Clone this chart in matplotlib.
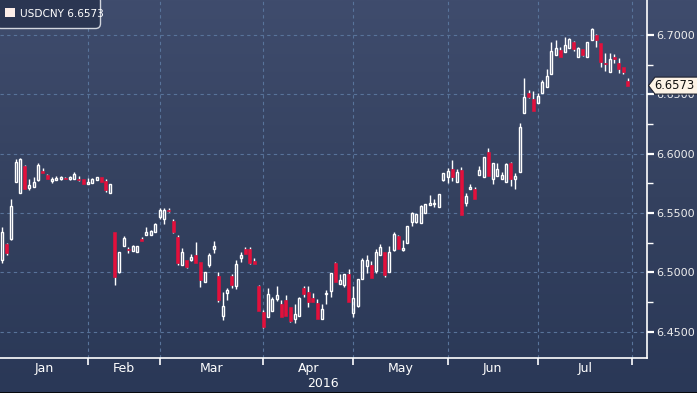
import numpy as np
import matplotlib
matplotlib.use("Agg")
import matplotlib.pyplot as plt
from matplotlib.patches import FancyBboxPatch, Rectangle, Polygon
from matplotlib.colors import LinearSegmentedColormap
import matplotlib.transforms as mtransforms

# ---- data (USDCNY daily candles, Jan-Jul 2016) ----
ticker = "USDCNY"
last_label = "6.6573"
months = ["Jan", "Feb", "Mar", "Apr", "May", "Jun", "Jul"]
month_days = [20, 16, 23, 20, 21, 20, 21]   # trading days per month
year_label = "2016"
y_ticks = [6.45, 6.50, 6.55, 6.60, 6.65, 6.70]

opens = [6.5104, 6.5239, 6.5278, 6.5759, 6.5666, 6.5896, 6.5711, 6.5722, 6.5776, 6.5854,
         6.5820, 6.5767, 6.5778, 6.5784, 6.5797, 6.5784, 6.5789, 6.5786, 6.5784, 6.5747,
         6.5755, 6.5781, 6.5801, 6.5767, 6.5666, 6.5340, 6.5006, 6.5222, 6.5199, 6.5182,
         6.5174, 6.5281, 6.5317, 6.5317, 6.5343, 6.5466, 6.5452, 6.5528, 6.5433, 6.5298,
         6.5064, 6.5104, 6.5102, 6.5146, 6.5087, 6.4921, 6.5064, 6.5194, 6.4969, 6.4632,
         6.4824, 6.4969, 6.4885, 6.5121, 6.5194, 6.5194, 6.5096, 6.4885, 6.4669, 6.4621,
         6.4677, 6.4778, 6.4733, 6.4767, 6.4706, 6.4610, 6.4635, 6.4871, 6.4834, 6.4786,
         6.4739, 6.4610, 6.4818, 6.4845, 6.5076, 6.4899, 6.4893, 6.4986, 6.4660, 6.4719,
         6.4941, 6.5056, 6.5059, 6.5011, 6.5149, 6.5171, 6.5006, 6.5188, 6.5304, 6.5188,
         6.5250, 6.5427, 6.5422, 6.5418, 6.5498, 6.5565, 6.5576, 6.5553, 6.5778, 6.5801,
         6.5868, 6.5759, 6.5862, 6.5580, 6.5698, 6.5700, 6.5816, 6.5806, 6.6014, 6.5784,
         6.5812, 6.5784, 6.5764, 6.5919, 6.5784, 6.5843, 6.6345, 6.6509, 6.6456, 6.6427,
         6.6509, 6.6564, 6.6669, 6.6831, 6.6873, 6.6859, 6.6888, 6.6938, 6.6812, 6.6879,
         6.6812, 6.6958, 6.7000, 6.6930, 6.6766, 6.6691, 6.6812, 6.6766, 6.6728, 6.6615]
highs = [6.5380, 6.5250, 6.5615, 6.5952, 6.5961, 6.5900, 6.5784, 6.5801, 6.5919, 6.5877,
         6.5831, 6.5803, 6.5812, 6.5808, 6.5806, 6.5812, 6.5845, 6.5812, 6.5786, 6.5795,
         6.5795, 6.5803, 6.5803, 6.5786, 6.5744, 6.5340, 6.5171, 6.5306, 6.5216, 6.5230,
         6.5225, 6.5298, 6.5380, 6.5357, 6.5416, 6.5540, 6.5542, 6.5542, 6.5447, 6.5315,
         6.5203, 6.5104, 6.5152, 6.5256, 6.5087, 6.5000, 6.5161, 6.5264, 6.5000, 6.4837,
         6.4868, 6.4984, 6.5104, 6.5171, 6.5214, 6.5214, 6.5121, 6.4893, 6.4683, 6.4866,
         6.4790, 6.4885, 6.4765, 6.4807, 6.4706, 6.4733, 6.4790, 6.4885, 6.4885, 6.4824,
         6.4773, 6.4731, 6.4851, 6.4992, 6.5087, 6.4984, 6.4984, 6.5028, 6.4885, 6.4941,
         6.5123, 6.5146, 6.5096, 6.5197, 6.5239, 6.5171, 6.5222, 6.5337, 6.5315, 6.5273,
         6.5388, 6.5511, 6.5492, 6.5567, 6.5573, 6.5652, 6.5618, 6.5660, 6.5835, 6.5877,
         6.5947, 6.5868, 6.5888, 6.5666, 6.5744, 6.5719, 6.5896, 6.5969, 6.6048, 6.5919,
         6.5919, 6.5845, 6.5924, 6.5932, 6.5835, 6.6261, 6.6640, 6.6532, 6.6530, 6.6509,
         6.6621, 6.6713, 6.6943, 6.6958, 6.6896, 6.6985, 6.6974, 6.6949, 6.6901, 6.6879,
         6.6938, 6.7056, 6.7010, 6.6930, 6.6846, 6.6846, 6.6840, 6.6803, 6.6728, 6.6635]
lows = [6.5081, 6.5150, 6.5273, 6.5759, 6.5666, 6.5700, 6.5694, 6.5722, 6.5770, 6.5833,
        6.5786, 6.5755, 6.5774, 6.5782, 6.5784, 6.5782, 6.5789, 6.5772, 6.5744, 6.5747,
        6.5753, 6.5778, 6.5764, 6.5680, 6.5666, 6.4893, 6.4995, 6.5218, 6.5166, 6.5180,
        6.5170, 6.5264, 6.5315, 6.5315, 6.5340, 6.5449, 6.5407, 6.5512, 6.5334, 6.5062,
        6.5062, 6.5037, 6.5093, 6.5079, 6.4879, 6.4921, 6.5048, 6.5166, 6.4753, 6.4599,
        6.4767, 6.4871, 6.4862, 6.5087, 6.5155, 6.5070, 6.5070, 6.4674, 6.4531, 6.4621,
        6.4677, 6.4761, 6.4626, 6.4632, 6.4584, 6.4576, 6.4635, 6.4795, 6.4711, 6.4753,
        6.4604, 6.4610, 6.4733, 6.4795, 6.4921, 6.4899, 6.4877, 6.4753, 6.4626, 6.4711,
        6.4941, 6.4997, 6.4955, 6.4992, 6.5149, 6.4963, 6.5006, 6.5180, 6.5197, 6.5180,
        6.5250, 6.5393, 6.5413, 6.5418, 6.5498, 6.5565, 6.5548, 6.5553, 6.5772, 6.5755,
        6.5772, 6.5759, 6.5483, 6.5559, 6.5698, 6.5618, 6.5816, 6.5806, 6.5812, 6.5744,
        6.5812, 6.5784, 6.5764, 6.5730, 6.5700, 6.5843, 6.6345, 6.6470, 6.6362, 6.6427,
        6.6509, 6.6564, 6.6669, 6.6831, 6.6810, 6.6859, 6.6888, 6.6867, 6.6812, 6.6823,
        6.6812, 6.6958, 6.6901, 6.6733, 6.6696, 6.6691, 6.6766, 6.6677, 6.6671, 6.6573]
closes = [6.5337, 6.5161, 6.5557, 6.5927, 6.5952, 6.5705, 6.5733, 6.5759, 6.5904, 6.5837,
          6.5789, 6.5786, 6.5792, 6.5801, 6.5786, 6.5801, 6.5831, 6.5778, 6.5747, 6.5761,
          6.5786, 6.5801, 6.5764, 6.5696, 6.5744, 6.4963, 6.5169, 6.5287, 6.5186, 6.5222,
          6.5222, 6.5267, 6.5340, 6.5346, 6.5407, 6.5525, 6.5525, 6.5514, 6.5343, 6.5081,
          6.5171, 6.5048, 6.5129, 6.5081, 6.4936, 6.5000, 6.5146, 6.5220, 6.4767, 6.4717,
          6.4851, 6.4893, 6.5070, 6.5146, 6.5157, 6.5076, 6.5073, 6.4677, 6.4537, 6.4818,
          6.4773, 6.4807, 6.4626, 6.4632, 6.4590, 6.4647, 6.4784, 6.4820, 6.4750, 6.4753,
          6.4604, 6.4691, 6.4830, 6.4992, 6.4921, 6.4933, 6.4984, 6.4753, 6.4784, 6.4941,
          6.5104, 6.5104, 6.4955, 6.5171, 6.5211, 6.4978, 6.5169, 6.5323, 6.5197, 6.5205,
          6.5388, 6.5503, 6.5492, 6.5559, 6.5573, 6.5584, 6.5587, 6.5660, 6.5835, 6.5854,
          6.5799, 6.5843, 6.5483, 6.5639, 6.5717, 6.5618, 6.5862, 6.5969, 6.5812, 6.5919,
          6.5868, 6.5820, 6.5910, 6.5784, 6.5812, 6.6222, 6.6477, 6.6480, 6.6362, 6.6486,
          6.6604, 6.6654, 6.6865, 6.6888, 6.6817, 6.6915, 6.6966, 6.6882, 6.6888, 6.6831,
          6.6938, 6.7048, 6.6958, 6.6775, 6.6753, 6.6797, 6.6797, 6.6713, 6.6691, 6.6573]

# ---- figure ----
W, H = 697, 393
RED = "#e3103c"
fig = plt.figure(figsize=(W / 100, H / 100), dpi=100)

# gradient background over the whole figure
bg = fig.add_axes([0, 0, 1, 1], zorder=0)
bg.axis("off")
cmap = LinearSegmentedColormap.from_list("bb", ["#3f4c6d", "#34415f", "#2a3857"])
bg.imshow(np.linspace(0, 1, 256).reshape(-1, 1), aspect="auto", cmap=cmap,
          extent=[0, 1, 0, 1], origin="upper")

ax_w, ax_h = 646.7, 357.7
ax = fig.add_axes([0, 1 - ax_h / H, ax_w / W, ax_h / H], zorder=1)
ax.set_facecolor("none")

o = np.array(opens); h = np.array(highs); l = np.array(lows); c = np.array(closes)
x = np.arange(len(o))
top = np.maximum(o, c)
bot = np.minimum(o, c)
up = c >= o
min_h = 0.0009

# wicks (drawn above and below the body so hollow bodies stay empty)
ax.vlines(x, top, h, color="white", lw=1, zorder=2)
ax.vlines(x, l, bot, color="white", lw=1, zorder=2)

ax.bar(x[up], np.maximum(top[up] - bot[up], min_h), bottom=bot[up], width=0.52,
       facecolor="none", edgecolor="white", linewidth=1, zorder=3)
ax.bar(x[~up], np.maximum(top[~up] - bot[~up], min_h), bottom=bot[~up], width=0.62,
       color=RED, edgecolor=RED, linewidth=0.4, zorder=3)

# month boundaries on the trading-day axis
month_ends = np.cumsum(month_days) - 1
starts = np.concatenate([[-0.5], month_ends[:-1]])
mids = (starts + month_ends) / 2

ax.set_xlim(-0.51, 143.2)
ax.set_ylim(6.4281, 6.7294)
ax.set_xticks(month_ends)
ax.set_yticks(y_ticks)
ax.set_yticks(np.array(y_ticks[:-1]) + 0.025, minor=True)
ax.yaxis.tick_right()
ax.yaxis.set_major_formatter(matplotlib.ticker.FormatStrFormatter("%.4f"))
ax.grid(True, which="major", color="#58739a", linestyle=(0, (3, 3)), linewidth=0.8, zorder=1)
ax.set_axisbelow(True)

ax.tick_params(axis="x", which="major", direction="out", length=5, width=1.2,
               colors="white", labelbottom=False)
ax.tick_params(axis="y", which="major", direction="out", length=5, width=1.6,
               colors="white", labelsize=8, pad=2)
ax.tick_params(axis="y", which="minor", direction="out", length=4, width=1, colors="white")
for lab in ax.get_yticklabels():
    lab.set_color("#eeeeee")

for s in ("top", "left"):
    ax.spines[s].set_visible(False)
for s in ("right", "bottom"):
    ax.spines[s].set_color("white")
    ax.spines[s].set_linewidth(1.2)

trans = mtransforms.blended_transform_factory(ax.transData, ax.transAxes)
for m, xm in zip(months, mids):
    ax.text(xm, -0.030, m, transform=trans, ha="center", va="center",
            color="white", fontsize=9)
ax.text(0.5, -0.072, year_label, transform=ax.transAxes, ha="center", va="center",
        color="white", fontsize=9)

# overlay in pixel coordinates for the legend box and the price tag
ov = fig.add_axes([0, 0, 1, 1], zorder=5)
ov.set_xlim(0, W)
ov.set_ylim(H, 0)
ov.axis("off")

ov.add_patch(FancyBboxPatch((-4, -4), 104.5, 32.5,
                            boxstyle="round,pad=0,rounding_size=5",
                            facecolor="#2b3652", edgecolor="#d2d6de", linewidth=1))
ov.add_patch(Rectangle((5, 8.3), 10, 9, facecolor="#fdeee9", edgecolor="none"))
ov.text(19.5, 13.8, f"{ticker} {last_label}", color="white", fontsize=7.6,
        ha="left", va="center")

yc = H - ax.transData.transform((0, closes[-1]))[1]
ov.add_patch(Polygon([(648.5, yc), (655, yc - 8.5), (700, yc - 8.5),
                      (700, yc + 8.5), (655, yc + 8.5)], closed=True,
                     facecolor="#fdf3e6", edgecolor="#1e2230", linewidth=0.8))
ov.text(674.5, yc, last_label, color="#111111", fontsize=8.3, ha="center", va="center")

ov.axhline(392.5, color="black", lw=1.2)

fig.savefig("out.png", dpi=100)
